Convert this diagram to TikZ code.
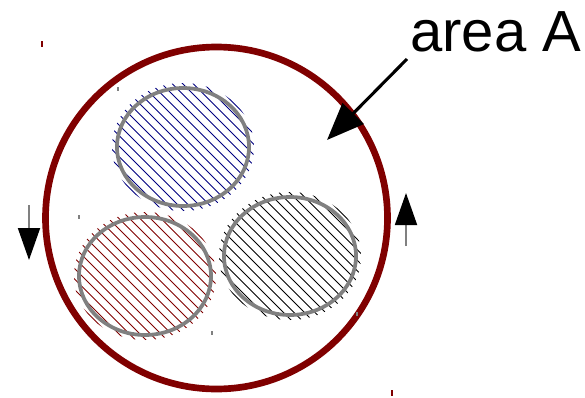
\documentclass[tikz,border=0pt]{standalone}
\usepackage{fontspec}
\setmainfont{Liberation Sans}
\usepackage{xcolor}
\usetikzlibrary{arrows.meta}
\definecolor{ringred}{RGB}{128,0,0}
\definecolor{hatchblue}{RGB}{0,0,128}
\definecolor{rimgray}{RGB}{128,128,128}

\begin{document}
\begin{tikzpicture}[x=0.75pt,y=-0.75pt,
    ring/.style={draw=ringred, line width=5pt},
    rim/.style={draw=rimgray, line width=2.8pt},
    hatchline/.style={line width=0.75pt},
    turnarrow/.style={draw=rimgray, line width=1.4pt,
      -{Triangle[length=24pt,width=16.5pt,color=black]}},
    pointer/.style={draw=black, line width=2.3pt,
      -{Triangle[length=28pt,width=22pt]}},
    straytick/.style={line width=0.8pt}]
    \useasboundingbox (0,0) rectangle (585,397);
    % Outer ring
    \draw[ring] (216.5,218) circle (171);
    % Hatched discs: centre x / centre y / colour / name
    \foreach \cx/\cy/\col/\nm in {183/147/hatchblue/discB,
                                  145/276/ringred/discR,
                                  290/256/black/discK} {
      \begin{scope}
        \clip (\cx,\cy) ellipse (71 and 64);
        \foreach \k in {-18,...,18} {
          \draw[hatchline, \col] (\cx+\k*10.5-90,\cy-90) -- ++(180,180);
        }
      \end{scope}
      \draw[rim] (\cx,\cy) ellipse (66 and 59);
      \coordinate (\nm) at (\cx,\cy);
    }
    % Rotation arrows
    \coordinate (turnLtop) at (29,205);
    \coordinate (turnLtip) at (29,260);
    \coordinate (turnRbot) at (406,246);
    \coordinate (turnRtip) at (406,193);
    \draw[turnarrow] (turnLtop) -- (turnLtip);
    \draw[turnarrow] (turnRbot) -- (turnRtip);
    % Label and pointer
    \node[anchor=base west, inner sep=0pt, font=\fontsize{43.5}{50}\selectfont]
      (lblA) at (410,51) {area A};
    \coordinate (ptrStart) at (407,59);
    \coordinate (ptrTip) at (327,140);
    \draw[pointer] (ptrStart) -- (ptrTip);
    % Stray marks
    \draw[straytick, ringred] (42,41) -- (42,47);
    \draw[straytick, ringred] (392,390) -- (392,396);
    \draw[straytick, rimgray] (118,87) -- (118,91);
    \draw[straytick, rimgray] (79,215) -- (79,219);
    \draw[straytick, rimgray] (212,331) -- (212,335);
    \draw[straytick, rimgray] (357,312) -- (357,316);
\end{tikzpicture}
\end{document}
